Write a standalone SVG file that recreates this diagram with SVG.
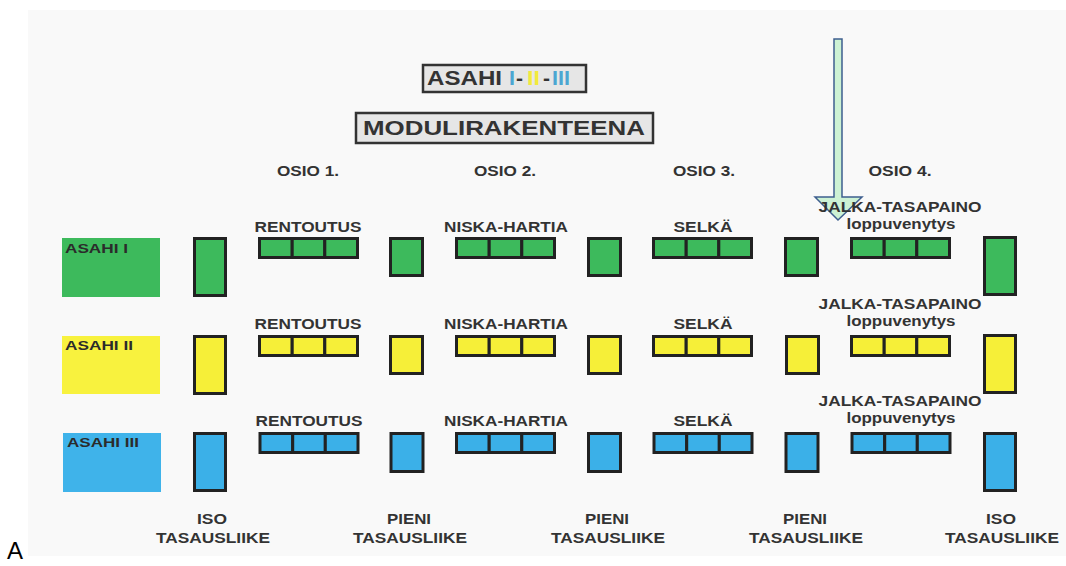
<svg xmlns="http://www.w3.org/2000/svg" width="1066" height="566" viewBox="0 0 1066 566">
  <defs>
    <style>
      text { font-family: "Liberation Sans", Arial, sans-serif; font-weight: bold; fill: #333; }
      .hd { font-size: 15px; text-anchor: middle; }
      .mod { font-size: 14px; text-anchor: middle; }
      .sub { font-size: 14px; text-anchor: middle; font-weight: bold; }
      .lbl { font-size: 13.5px; fill: #2b2b2b; }
      .foot { font-size: 14px; text-anchor: middle; }
      .blk { stroke: #222; stroke-width: 3; }
      .green { fill: #3dba5c; }
      .yellow { fill: #f6ef38; }
      .blue { fill: #3bb0e8; }
      .title { fill: #e6e6e6; stroke: #333; stroke-width: 2.5; }
    </style>
    <!-- one three-cell module block, 98 x 19; fill comes from the row -->
    <g id="triple">
      <rect class="blk" x="0" y="0" width="32.7" height="19"/>
      <rect class="blk" x="32.7" y="0" width="32.6" height="19"/>
      <rect class="blk" x="65.3" y="0" width="32.7" height="19"/>
    </g>
  </defs>

  <!-- page -->
  <rect x="0" y="0" width="1066" height="566" fill="#ffffff"/>
  <rect x="28" y="10" width="1038" height="546" fill="#f9f9f9"/>

  <!-- titles -->
  <g id="title-asahi">
    <rect class="title" x="423" y="65" width="163" height="27"/>
    <text x="427" y="85" style="font-size:21px" textLength="75" lengthAdjust="spacingAndGlyphs">ASAHI</text>
    <text x="509" y="85" style="font-size:21px;fill:#4ba6d2" textLength="6" lengthAdjust="spacingAndGlyphs">I</text>
    <text x="516" y="85" style="font-size:21px" textLength="7" lengthAdjust="spacingAndGlyphs">-</text>
    <text x="527" y="85" style="font-size:21px;fill:#f2ea3c" textLength="13" lengthAdjust="spacingAndGlyphs">II</text>
    <text x="543" y="85" style="font-size:21px" textLength="7" lengthAdjust="spacingAndGlyphs">-</text>
    <text x="552" y="85" style="font-size:21px;fill:#4ba6d2" textLength="18" lengthAdjust="spacingAndGlyphs">III</text>
  </g>
  <g id="title-modul">
    <rect class="title" x="356" y="113" width="297" height="30"/>
    <text x="363" y="135" style="font-size:21px" textLength="282" lengthAdjust="spacingAndGlyphs">MODULIRAKENTEENA</text>
  </g>

  <!-- section headings -->
  <g id="osio-headings">
    <text class="hd" x="308" y="176" textLength="62" lengthAdjust="spacingAndGlyphs">OSIO 1.</text>
    <text class="hd" x="505" y="176" textLength="62" lengthAdjust="spacingAndGlyphs">OSIO 2.</text>
    <text class="hd" x="704" y="176" textLength="62" lengthAdjust="spacingAndGlyphs">OSIO 3.</text>
    <text class="hd" x="900" y="176" textLength="63" lengthAdjust="spacingAndGlyphs">OSIO 4.</text>
  </g>

  <!-- connector: pointer arrow into section 4 -->
  <g id="connectors">
    <path d="M834,39 H842 V197 H862 L838,220 L815,197 H834 Z" fill="#cdf2d4" stroke="#3e5f8e" stroke-width="1.5" stroke-linejoin="miter"/>
  </g>

  <!-- row 1 -->
  <g id="row-asahi-1" class="green">
    <rect x="62" y="238" width="98" height="59" fill="#3dba5c"/>
    <text class="lbl" x="65" y="253" textLength="63" lengthAdjust="spacingAndGlyphs">ASAHI I</text>
    <rect class="blk" x="194.5" y="238.5" width="31" height="57"/>
    <text class="mod" x="308" y="232" textLength="107" lengthAdjust="spacingAndGlyphs">RENTOUTUS</text>
    <use href="#triple" x="259.5" y="238.5"/>
    <rect class="blk" x="390.5" y="238.5" width="32" height="37"/>
    <text class="mod" x="506" y="232" textLength="124" lengthAdjust="spacingAndGlyphs">NISKA-HARTIA</text>
    <use href="#triple" x="456.5" y="238.5"/>
    <rect class="blk" x="588.5" y="238.5" width="32" height="37"/>
    <text class="mod" x="703" y="232" textLength="59" lengthAdjust="spacingAndGlyphs">SELKÄ</text>
    <use href="#triple" x="653.5" y="238.5"/>
    <rect class="blk" x="785.5" y="238.5" width="32" height="37"/>
    <use href="#triple" x="851.5" y="238.5"/>
    <rect class="blk" x="984.5" y="237.5" width="31" height="57"/>
  </g>
  <g id="label-jalka-1">
    <text class="mod" x="900" y="212" textLength="163" lengthAdjust="spacingAndGlyphs">JALKA-TASAPAINO</text>
    <text class="sub" x="901" y="229" textLength="109" lengthAdjust="spacingAndGlyphs">loppuvenytys</text>
  </g>

  <!-- row 2 -->
  <g id="row-asahi-2" class="yellow">
    <rect x="62" y="336" width="98" height="58" fill="#f8f23e"/>
    <text class="lbl" x="65" y="350" textLength="68" lengthAdjust="spacingAndGlyphs">ASAHI II</text>
    <rect class="blk" x="194.5" y="336.5" width="31" height="57"/>
    <text class="mod" x="308" y="329" textLength="107" lengthAdjust="spacingAndGlyphs">RENTOUTUS</text>
    <use href="#triple" x="259.5" y="336.5"/>
    <rect class="blk" x="390.5" y="336.5" width="32" height="37"/>
    <text class="mod" x="506" y="329" textLength="124" lengthAdjust="spacingAndGlyphs">NISKA-HARTIA</text>
    <use href="#triple" x="456.5" y="336.5"/>
    <rect class="blk" x="588.5" y="336.5" width="32" height="37"/>
    <text class="mod" x="703" y="329" textLength="59" lengthAdjust="spacingAndGlyphs">SELKÄ</text>
    <use href="#triple" x="653.5" y="336.5"/>
    <rect class="blk" x="786.5" y="336.5" width="32" height="37"/>
    <text class="mod" x="900" y="309" textLength="163" lengthAdjust="spacingAndGlyphs">JALKA-TASAPAINO</text>
    <text class="sub" x="901" y="326" textLength="109" lengthAdjust="spacingAndGlyphs">loppuvenytys</text>
    <use href="#triple" x="851.5" y="336.5"/>
    <rect class="blk" x="984.5" y="335.5" width="31" height="57"/>
  </g>

  <!-- row 3 -->
  <g id="row-asahi-3" class="blue">
    <rect x="63" y="433" width="98" height="59" fill="#3fb3ea"/>
    <text class="lbl" x="67" y="447" textLength="72" lengthAdjust="spacingAndGlyphs">ASAHI III</text>
    <rect class="blk" x="194.5" y="433.5" width="31" height="57"/>
    <text class="mod" x="309" y="426" textLength="107" lengthAdjust="spacingAndGlyphs">RENTOUTUS</text>
    <use href="#triple" x="260" y="433.5"/>
    <rect class="blk" x="391" y="433.5" width="32" height="38"/>
    <text class="mod" x="506" y="426" textLength="124" lengthAdjust="spacingAndGlyphs">NISKA-HARTIA</text>
    <use href="#triple" x="456.5" y="433.5"/>
    <rect class="blk" x="588.5" y="433.5" width="32" height="38"/>
    <text class="mod" x="703" y="426" textLength="59" lengthAdjust="spacingAndGlyphs">SELKÄ</text>
    <use href="#triple" x="654" y="433.5"/>
    <rect class="blk" x="786" y="433.5" width="32" height="38"/>
    <text class="mod" x="900" y="406" textLength="163" lengthAdjust="spacingAndGlyphs">JALKA-TASAPAINO</text>
    <text class="sub" x="901" y="423" textLength="109" lengthAdjust="spacingAndGlyphs">loppuvenytys</text>
    <use href="#triple" x="852" y="433.5"/>
    <rect class="blk" x="984.5" y="433.5" width="31" height="57"/>
  </g>

  <!-- balancing moves under the columns -->
  <g id="foot-1">
    <text class="foot" x="212" y="524" textLength="30" lengthAdjust="spacingAndGlyphs">ISO</text>
    <text class="foot" x="213" y="543" textLength="114" lengthAdjust="spacingAndGlyphs">TASAUSLIIKE</text>
  </g>
  <g id="foot-2">
    <text class="foot" x="409" y="524" textLength="44" lengthAdjust="spacingAndGlyphs">PIENI</text>
    <text class="foot" x="410" y="543" textLength="114" lengthAdjust="spacingAndGlyphs">TASAUSLIIKE</text>
  </g>
  <g id="foot-3">
    <text class="foot" x="607" y="524" textLength="44" lengthAdjust="spacingAndGlyphs">PIENI</text>
    <text class="foot" x="608" y="543" textLength="114" lengthAdjust="spacingAndGlyphs">TASAUSLIIKE</text>
  </g>
  <g id="foot-4">
    <text class="foot" x="805" y="524" textLength="44" lengthAdjust="spacingAndGlyphs">PIENI</text>
    <text class="foot" x="806" y="543" textLength="114" lengthAdjust="spacingAndGlyphs">TASAUSLIIKE</text>
  </g>
  <g id="foot-5">
    <text class="foot" x="1001" y="524" textLength="30" lengthAdjust="spacingAndGlyphs">ISO</text>
    <text class="foot" x="1002" y="543" textLength="114" lengthAdjust="spacingAndGlyphs">TASAUSLIIKE</text>
  </g>

  <!-- panel letter -->
  <text x="7" y="559" style="font-size:24px;font-weight:normal;fill:#000">A</text>
</svg>
